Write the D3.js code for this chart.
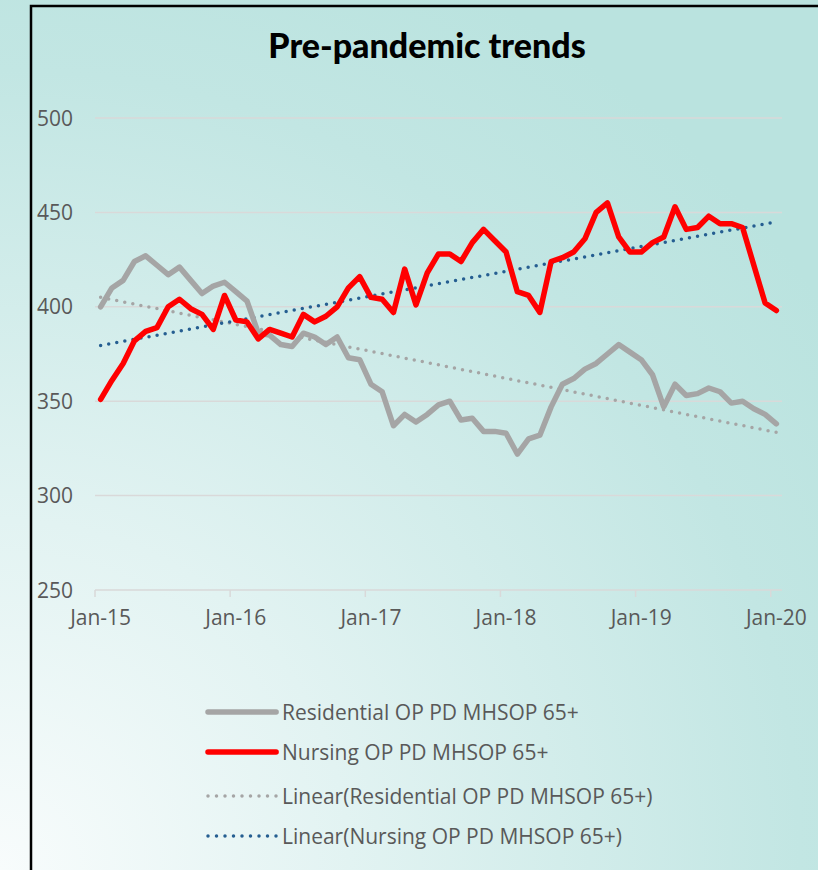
<!DOCTYPE html>
<html><head><meta charset="utf-8">
<script src="https://cdn.jsdelivr.net/npm/d3@7"></script>
<style>html,body{margin:0;padding:0;overflow:hidden;}svg{display:block;}</style>
</head><body>
<script>
// ---- data ----
const months = d3.range(61).map(i => new Date(2015, i, 1));
const residential = [400,410,414,424,427,422,417,421,414,407,411,413,408,403,386,385,380,379,386,384,380,384,373,372,359,355,337,343,339,343,348,350,340,341,334,334,333,322,330,332,347,359,362,367,370,375,380,376,372,364,347,359,353,354,357,355,349,350,346,343,338];
const nursing = [351,361,370,382,387,389,400,404,399,396,388,406,393,392,383,388,386,384,396,392,395,400,410,416,405,404,397,420,401,418,428,428,424,434,441,435,429,408,406,397,424,426,429,436,450,455,437,429,429,434,437,453,441,442,448,444,444,442,422,402,398];
const residentialTrend = [405, 333.5]; // start (Jan-15), end (Jan-20)
const nursingTrend = [379.5, 445];
const yTicks = [250,300,350,400,450,500];
const xTickLabels = ["Jan-15","Jan-16","Jan-17","Jan-18","Jan-19","Jan-20"];
const legendLabels = ["Residential OP PD MHSOP 65+","Nursing OP PD MHSOP 65+","Linear(Residential OP PD MHSOP 65+)","Linear(Nursing OP PD MHSOP 65+)"];

const W = 818, H = 870;
const svg = d3.select("body").append("svg").attr("width", W).attr("height", H);
const defs = svg.append("defs");
const rg = defs.append("radialGradient").attr("id","bg").attr("gradientUnits","userSpaceOnUse")
  .attr("cx",0).attr("cy",870).attr("r",1000);
rg.append("stop").attr("offset","0").attr("stop-color","#f8fcfc");
rg.append("stop").attr("offset","0.35").attr("stop-color","#e2f3f2");
rg.append("stop").attr("offset","0.8").attr("stop-color","#c2e6e3");
rg.append("stop").attr("offset","1").attr("stop-color","#bae3df");
svg.append("rect").attr("width",W).attr("height",H).attr("fill","url(#bg)");
svg.append("rect").attr("x",31).attr("y",6).attr("width",900).attr("height",900)
  .attr("fill","none").attr("stroke","#000").attr("stroke-width",2.5);

svg.append("text").attr("x",427).attr("y",58).attr("text-anchor","middle")
  .attr("font-family","Lato, sans-serif").attr("font-weight","900").attr("font-size",34)
  .attr("fill","#000").text("Pre-pandemic trends");

const x = d3.scaleBand().domain(months.map(d=>+d)).range([95,782]).padding(0);
const bw = x.bandwidth();
const cx = d => x(+d) + bw/2;
const y = d3.scaleLinear().domain([250,500]).range([590,118]);

const font = "'Open Sans', sans-serif";
// gridlines
svg.append("g").selectAll("line").data(yTicks).join("line")
  .attr("x1",95).attr("x2",782).attr("y1",d=>y(d)).attr("y2",d=>y(d))
  .attr("stroke","#d9d9d9").attr("stroke-width",1.5);
// y labels
svg.append("g").selectAll("text").data(yTicks).join("text")
  .attr("x",73).attr("y",d=>y(d)).attr("dy","0.36em").attr("text-anchor","end")
  .attr("font-family",font).attr("font-size",21).attr("fill","#595959").text(d=>d);
// x ticks & labels
const janMonths = months.filter(d => d.getMonth()===0);
svg.append("g").selectAll("line").data(janMonths).join("line")
  .attr("x1",d=>x(+d)).attr("x2",d=>x(+d)).attr("y1",590).attr("y2",597)
  .attr("stroke","#d9d9d9").attr("stroke-width",1.5);
svg.append("g").selectAll("text").data(janMonths).join("text")
  .attr("x",d=>cx(d)).attr("y",625).attr("text-anchor","middle")
  .attr("font-family",font).attr("font-size",21).attr("fill","#595959")
  .text((d,i)=>xTickLabels[i]);

// trend lines
const trendLine = d3.line().x(d=>cx(d[0])).y(d=>y(d[1]));
const first = months[0], last = months[months.length-1];
svg.append("path").datum([[first,residentialTrend[0]],[last,residentialTrend[1]]])
  .attr("d",trendLine).attr("fill","none").attr("stroke","#a5a5a5").attr("stroke-width",3.5)
  .attr("stroke-linecap","round").attr("stroke-dasharray","0 8.2");
svg.append("path").datum([[first,nursingTrend[0]],[last,nursingTrend[1]]])
  .attr("d",trendLine).attr("fill","none").attr("stroke","#255e91").attr("stroke-width",3.5)
  .attr("stroke-linecap","round").attr("stroke-dasharray","0 8.2");

// series
const line = d3.line().x((d,i)=>cx(months[i])).y(d=>y(d));
svg.append("path").datum(residential).attr("d",line).attr("fill","none")
  .attr("stroke","#a5a5a5").attr("stroke-width",5.5).attr("stroke-linejoin","round").attr("stroke-linecap","round");
svg.append("path").datum(nursing).attr("d",line).attr("fill","none")
  .attr("stroke","#ff0000").attr("stroke-width",5.5).attr("stroke-linejoin","round").attr("stroke-linecap","round");

// legend
const legY = [712, 752, 796, 836];
const legStyles = [
  {c:"#a5a5a5", w:5.5, dash:null},
  {c:"#ff0000", w:5.5, dash:null},
  {c:"#a5a5a5", w:3.5, dash:"0 8.5"},
  {c:"#255e91", w:3.5, dash:"0 8.5"}
];
const lg = svg.append("g");
legendLabels.forEach((lab,i)=>{
  const s = legStyles[i];
  const ln = lg.append("line").attr("x1",208).attr("x2",276.1).attr("y1",legY[i]).attr("y2",legY[i])
    .attr("stroke",s.c).attr("stroke-width",s.w).attr("stroke-linecap","round");
  if (s.dash) ln.attr("stroke-dasharray",s.dash);
  lg.append("text").attr("x",282).attr("y",legY[i]).attr("dy","0.36em")
    .attr("font-family",font).attr("font-size",21).attr("fill","#595959").text(lab);
});
</script>
</body></html>
